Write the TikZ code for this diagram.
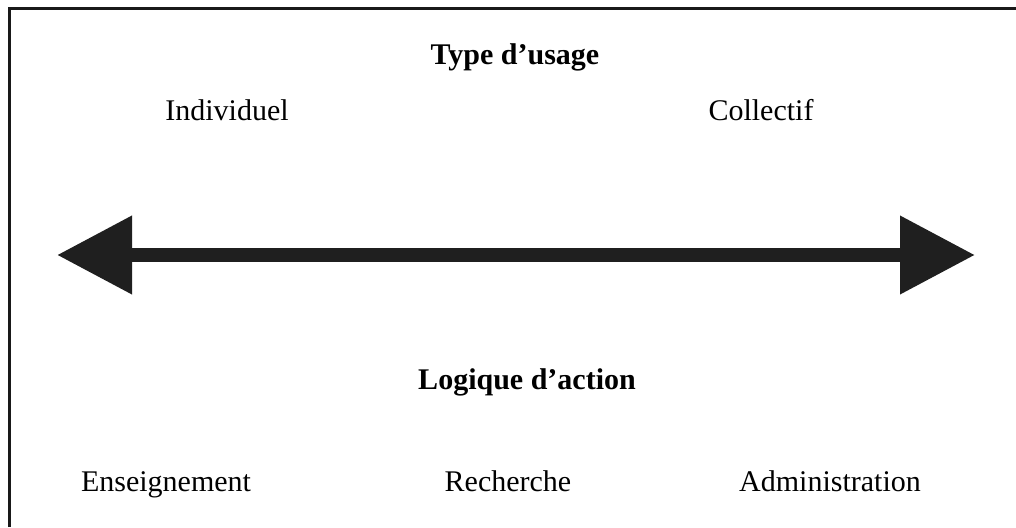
\documentclass[tikz,border=0pt]{standalone}
\usepackage{fontspec}
\setmainfont{Liberation Serif}
\usetikzlibrary{arrows.meta}
\begin{document}
\begin{tikzpicture}[x=1pt,y=-1pt,
  lbl/.style={anchor=base,inner sep=0pt,font=\fontsize{30}{36}\selectfont},
  ttl/.style={lbl,font=\fontsize{30}{36}\selectfont\bfseries},
  frame/.style={line width=2.5pt,draw=black!90},
  bigarrow/.style={line width=14pt,draw=black!88,
    {Triangle[length=75pt,width=75pt]}-{Triangle[length=75pt,width=75pt]}}]
\useasboundingbox (0,0) rectangle (1016,527);
\coordinate (c0) at (9.5,527);
\coordinate (c1) at (9.5,8.5);
\coordinate (c2) at (1016,8.5);
\draw[frame] (c0) -- (c1) -- (c2);
\node[ttl] (type) at (515,64) {Type d’usage};
\node[lbl] (ind) at (227,120) {Individuel};
\node[lbl] (col) at (761,120) {Collectif};
\coordinate (L) at (57,255);
\coordinate (R) at (975,255);
\draw[bigarrow] (L) -- (R);
\node[ttl] (log) at (527,389) {Logique d’action};
\node[lbl] (ens) at (166,491) {Enseignement};
\node[lbl] (rec) at (508,491) {Recherche};
\node[lbl] (adm) at (830,491) {Administration};
\end{tikzpicture}
\end{document}
